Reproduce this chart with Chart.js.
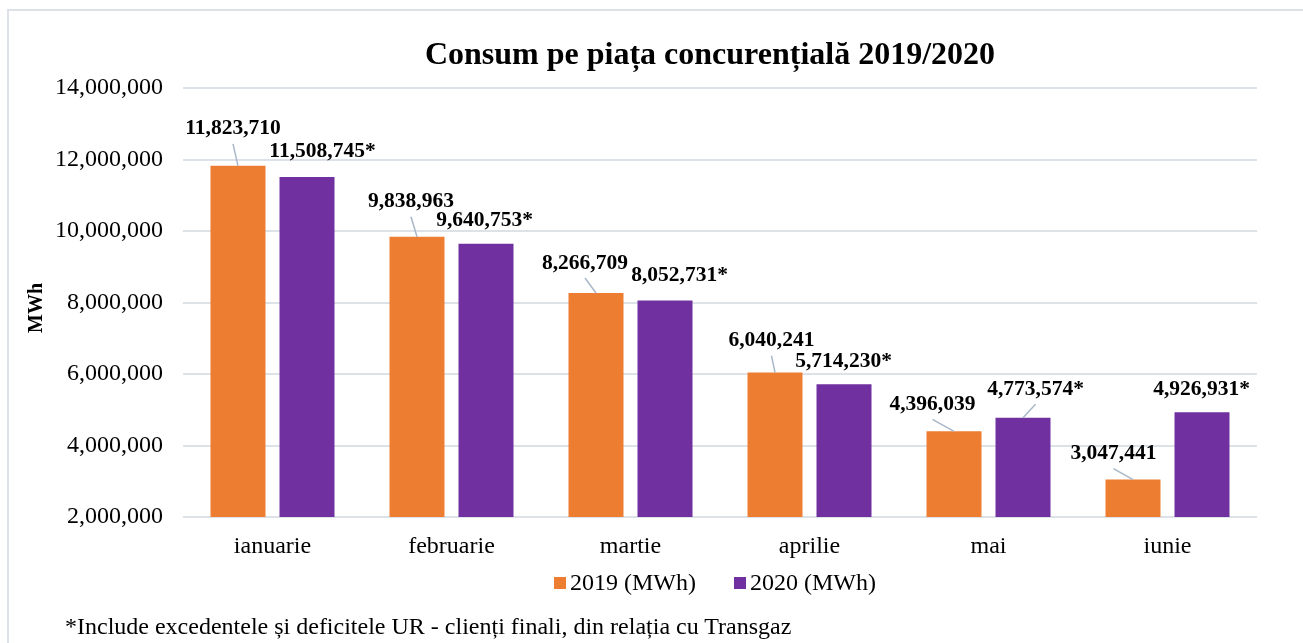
<!DOCTYPE html>
<html>
<head>
<meta charset="utf-8">
<script src="https://cdn.jsdelivr.net/npm/chart.js@4.4.1/dist/chart.umd.min.js"></script>
<style>
    body { margin: 0; width: 1303px; height: 643px; overflow: hidden; background: #fff; position: relative; }
    #frame { position: absolute; left: 7px; top: 9px; width: 1400px; height: 700px; border: 2px solid #dde2e9; }
    #title { position: absolute; left: 0; top: 35px; width: 1420px; text-align: center; line-height: 32px;
        font: bold 32px "Liberation Serif", "Times New Roman", serif; color: #000; }
    #myChart { position: absolute; left: 7px; top: 0; }
    #note { position: absolute; left: 65px; top: 613px; line-height: 24px; white-space: nowrap;
        font: 24px "Liberation Serif", "Times New Roman", serif; color: #000; }
</style>
</head>
<body>
<div id="frame"></div>
<canvas id="myChart" width="1422" height="643"></canvas>
<div id="title">Consum pe piața concurențială 2019/2020</div>
<div id="note">*Include excedentele și deficitele UR - clienți finali, din relația cu Transgaz</div>
<script>
const months = ["ianuarie", "februarie", "martie", "aprilie", "mai", "iunie"];
const consum2019 = [11823710, 9838963, 8266709, 6040241, 4396039, 3047441];
const consum2020 = [11508745, 9640753, 8052731, 5714230, 4773574, 4926931];
const seriesNames = ["2019 (MWh)", "2020 (MWh)"];
const labelSuffix = ["", "*"];
const yMin = 2000000, yMax = 14000000, yStep = 2000000;

// where each value label sits, relative to the top of its bar
const labelShift = [
    [[-5, -37], [-6, -35], [-11, -30], [-3.5, -32], [-21.5, -27], [-19.5, -26]],
    [[15.5, -26], [-1.5, -23.5], [14.5, -25], [-0.5, -23], [12.5, -28.5], [-0.5, -23]]
];
const leaderLines = [
    [true, true, true, true, true, true],
    [false, false, false, false, true, false]
];

const serif = "'Liberation Serif', 'Times New Roman', serif";
Chart.defaults.font.family = serif;
Chart.defaults.color = "#000";

const barLabels = {
    id: "barLabels",
    afterDatasetsDraw(chart) {
        const ctx = chart.ctx;
        ctx.save();
        ctx.font = "bold 21.5px " + serif;
        ctx.textAlign = "center";
        ctx.textBaseline = "middle";
        chart.data.datasets.forEach((ds, di) => {
            chart.getDatasetMeta(di).data.forEach((bar, i) => {
                const lx = bar.x + labelShift[di][i][0];
                const ly = bar.y + labelShift[di][i][1];
                if (leaderLines[di][i]) {
                    ctx.strokeStyle = "#a9b7c9";
                    ctx.lineWidth = 1.5;
                    ctx.beginPath();
                    ctx.moveTo(lx, ly + 15);
                    ctx.lineTo(bar.x, bar.y);
                    ctx.stroke();
                }
                ctx.fillStyle = "#000";
                ctx.fillText(ds.data[i].toLocaleString("en-US") + labelSuffix[di], lx, ly);
            });
        });

        // y axis title
        ctx.save();
        ctx.font = "bold 20px " + serif;
        ctx.translate(30, 308);
        ctx.rotate(-Math.PI / 2);
        ctx.fillText("MWh", 0, 0);
        ctx.restore();

        // legend below the month labels
        ctx.font = "24px " + serif;
        ctx.textAlign = "left";
        const box = 12, gapText = 4, gapItem = 38;
        const widths = chart.data.datasets.map(ds => ctx.measureText(ds.label).width);
        const total = widths.reduce((a, w) => a + box + gapText + w, 0) + gapItem * (widths.length - 1);
        let x = 708 - total / 2;
        const y = 584;
        chart.data.datasets.forEach((ds, di) => {
            ctx.fillStyle = ds.backgroundColor;
            ctx.fillRect(x, y - 7, box, box);
            ctx.fillStyle = "#000";
            ctx.fillText(ds.label, x + box + gapText, y);
            x += box + gapText + widths[di] + gapItem;
        });
        ctx.restore();
    }
};

const ctx = document.getElementById("myChart").getContext("2d");
let consumChart = new Chart(ctx, {
    type: "bar",
    data: {
        labels: months,
        datasets: [{
            label: seriesNames[0],
            data: consum2019,
            backgroundColor: "#ed7d31",
        }, {
            label: seriesNames[1],
            data: consum2020,
            backgroundColor: "#7030a0",
        }],
    },
    options: {
        responsive: false,
        animation: false,
        categoryPercentage: 0.771,
        barPercentage: 0.797,
        layout: { padding: { top: 88, left: 0, right: 172, bottom: 78 } },
        plugins: {
            legend: { display: false },
            tooltip: { enabled: false },
        },
        scales: {
            x: {
                grid: { display: false },
                border: { display: false },
                ticks: { padding: 7, font: { size: 24 } },
                afterFit: (s) => { s.height = 48; },
            },
            y: {
                min: yMin,
                max: yMax,
                grid: { color: "#dde2e9", lineWidth: 2, drawTicks: false },
                border: { display: false },
                ticks: {
                    stepSize: yStep,
                    padding: 20,
                    font: { size: 24 },
                    callback: (v) => v.toLocaleString("en-US"),
                },
                afterFit: (s) => { s.width = 176; },
            },
        },
    },
    plugins: [barLabels],
});
</script>
</body>
</html>
